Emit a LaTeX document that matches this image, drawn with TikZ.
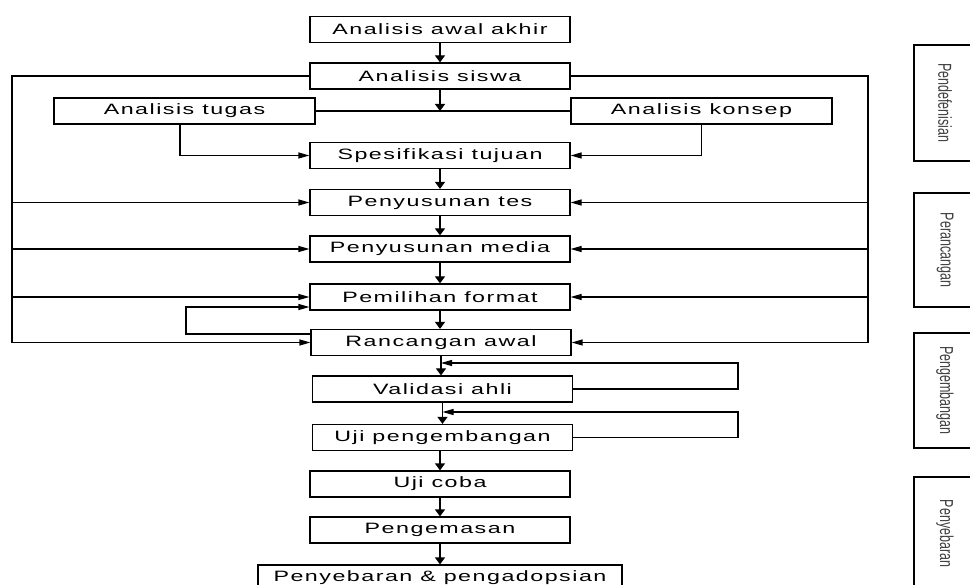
\documentclass[tikz,border=0pt]{standalone}
\usepackage{fontspec}
\setmainfont{Liberation Sans}
\newfontfamily\boxfont[FakeStretch=1.55,LetterSpace=10]{Liberation Sans}
\usetikzlibrary{arrows.meta}

\begin{document}
\begin{tikzpicture}[x=1pt,y=-1pt,line width=1.2pt,
    stepbox/.style={draw,rectangle,minimum width=260pt,minimum height=26pt,
        font=\boxfont\fontsize{15}{15}\selectfont},
    phasebox/.style={draw,rectangle,rotate=-90,minimum height=62pt,
        font=\fontsize{12.5}{12.5}\selectfont,text=black!75},
    harr/.style={-{Triangle[length=11pt,width=6pt]}},
    varr/.style={-{Triangle[length=7pt,width=10pt]}}]
    \tikzstyle{every node}+=[inner sep=0pt]
    \clip (0,0) rectangle (970,585);
    \node (awal) [stepbox] at (440,29.5) {Analisis awal akhir};
    \node (siswa) [stepbox] at (440,76) {Analisis siswa};
    \node (tugas) [stepbox,minimum width=261pt] at (184.5,111) {Analisis tugas};
    \node (konsep) [stepbox,minimum width=261pt] at (701.5,111) {Analisis konsep};
    \node (tujuan) [stepbox] at (440,155.5) {Spesifikasi tujuan};
    \node (tes) [stepbox] at (440,202.5) {Penyusunan tes};
    \node (media) [stepbox] at (440,249) {Penyusunan media};
    \node (format) [stepbox] at (440,297) {Pemilihan format};
    \node (rancangan) [stepbox] at (441,342.5) {Rancangan awal};
    \node (validasi) [stepbox] at (442.5,389) {Validasi ahli};
    \node (ujipeng) [stepbox] at (442.5,437.5) {Uji pengembangan};
    \node (ujicoba) [stepbox] at (440,484) {Uji coba};
    \node (kemas) [stepbox] at (440,530) {Pengemasan};
    \node (sebar) [stepbox,minimum width=364pt] at (440,578) {Penyebaran \& pengadopsian};
    \node (definisi) [phasebox,minimum width=116pt] at (945,103) {\scalebox{1}[1.5]{Pendefenisian}};
    \node (rancang) [phasebox,minimum width=114pt] at (945,250) {\scalebox{1}[1.5]{Perancangan}};
    \node (kembang) [phasebox,minimum width=115pt] at (945,390.5) {\scalebox{1}[1.5]{Pengembangan}};
    \node (sebaran) [phasebox,minimum width=113pt] at (945,533.5) {\scalebox{1}[1.5]{Penyebaran}};
    \coordinate (kiri) at (12,342.5);
    \coordinate (kanan) at (868,342.5);
    \coordinate (balik) at (186,334);
    \coordinate (valkanan) at (738,363);
    \coordinate (ujikanan) at (738,412);
    \draw [varr] (awal) -- (siswa);
    \draw [varr] (siswa) -- (siswa |- tugas);
    \draw (tugas) -- (konsep);
    \draw [harr] ([xshift=-4.5pt]tugas.south) |- (tujuan);
    \draw [harr] (konsep.south) |- (tujuan);
    \draw [varr] (tujuan) -- (tes);
    \draw [varr] (tes) -- (media);
    \draw [varr] (media) -- (format);
    \draw [varr] (format) -- (format |- rancangan.north);
    \draw [harr] (siswa.west) -| (kiri) -- (rancangan);
    \draw [harr] (siswa.east) -| (kanan) -- (rancangan);
    \draw [harr] (kiri |- tes) -- (tes);
    \draw [harr] (kiri |- media) -- (media);
    \draw [harr] (kiri |- format) -- (format);
    \draw [harr] (kanan |- tes) -- (tes);
    \draw [harr] (kanan |- media) -- (media);
    \draw [harr] (kanan |- format) -- (format);
    \draw [harr] (rancangan.west |- balik) -- (balik) |- ([yshift=-10pt]format.west);
    \draw [varr] (rancangan.south) -- (rancangan.south |- validasi.north);
    \draw [harr] (validasi.east) -| (valkanan) -- (rancangan.south |- valkanan);
    \draw [varr] (validasi.south) -- (validasi.south |- ujipeng.north);
    \draw [harr] (ujipeng.east) -| (ujikanan) -- (validasi.south |- ujikanan);
    \draw [varr] (ujipeng.south -| ujicoba) -- (ujicoba);
    \draw [varr] (ujicoba) -- (kemas);
    \draw [varr] (kemas) -- (sebar);
\end{tikzpicture}
\end{document}
